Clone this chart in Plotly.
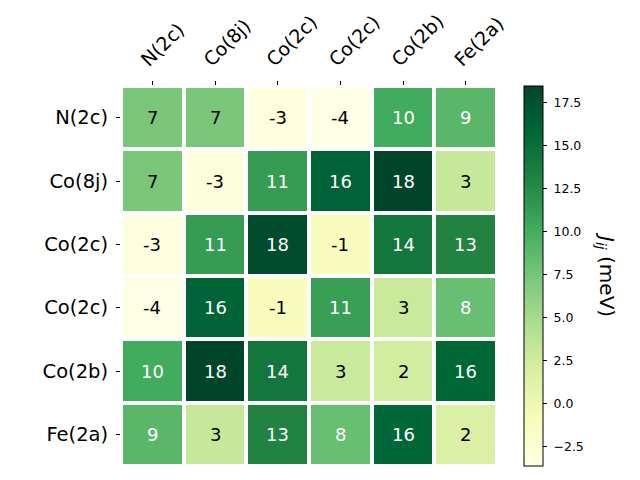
import plotly.graph_objects as go

labels = ["N(2c)", "Co(8j)", "Co(2c)", "Co(2c)", "Co(2b)", "Fe(2a)"]
values = [
    [7.3, 7.3, -3.2, -3.63, 10.1, 8.9],
    [7.3, -3.0, 11.2, 16.1, 18.45, 3.1],
    [-3.2, 11.2, 17.9, -1.1, 14.2, 13.1],
    [-3.63, 16.1, -1.1, 11.0, 2.9, 8.2],
    [10.1, 18.45, 14.2, 2.9, 2.3, 15.8],
    [8.9, 3.1, 13.1, 8.2, 15.8, 1.8],
]
cbar_ticks = [-2.5, 0.0, 2.5, 5.0, 7.5, 10.0, 12.5, 15.0, 17.5]

ylgn = ['rgb(255,255,229)', 'rgb(247,252,185)', 'rgb(217,240,163)', 'rgb(173,221,142)',
        'rgb(120,198,121)', 'rgb(65,171,93)', 'rgb(35,132,67)', 'rgb(0,104,55)', 'rgb(0,69,41)']
cscale = [[i / 8, c] for i, c in enumerate(ylgn)]

flat = [v for r in values for v in r]
zmin, zmax = min(flat), max(flat)
idx = list(range(len(labels)))

FONT = "DejaVu Sans"
L, R, T, B = 121, 143, 86, 14
pw = 640 - L - R
ph = 480 - T - B

fig = go.Figure(go.Heatmap(
    z=values, x=idx, y=idx, colorscale=cscale, zmin=zmin, zmax=zmax,
    xgap=4, ygap=4, hoverinfo="skip",
    colorbar=dict(
        x=(524 - L) / pw, xanchor="left", y=0.5, yanchor="middle",
        lenmode="fraction", len=1.0, thickness=19, xpad=0, ypad=0,
        outlinewidth=1, outlinecolor="black",
        tickvals=cbar_ticks, ticktext=[" " + f"{t:.1f}".replace("-", "\u2212") for t in cbar_ticks],
        ticks="outside", ticklen=4, tickcolor="black",
        tickfont=dict(family=FONT, size=12.5, color="black"),
    ),
))

annotations = []
for i, row in enumerate(values):
    for j, v in enumerate(row):
        norm = (v - zmin) / (zmax - zmin)
        annotations.append(dict(
            x=j, y=i, xref="x", yref="y", text=f"{round(v):d}", showarrow=False,
            font=dict(family=FONT, size=18, color="white" if norm > 0.5 else "black"),
        ))
annotations.append(dict(
    x=(606 - L) / pw, y=(480 - B - 274) / ph, xref="paper", yref="paper",
    xanchor="center", yanchor="middle",
    text="<i>J</i><sub><i>ij</i></sub> (meV)", textangle=90, showarrow=False,
    font=dict(family=FONT, size=20, color="black"),
))

fig.update_layout(
    width=640, height=480,
    margin=dict(l=L, r=R, t=T, b=B, autoexpand=False),
    paper_bgcolor="white", plot_bgcolor="white",
    annotations=annotations,
    xaxis=dict(side="top", tickvals=idx, ticktext=labels, tickangle=-45,
               ticks="outside", ticklen=4, tickcolor="black", showgrid=False, zeroline=False,
               ticklabelshift=-10, ticklabelstandoff=3,
               range=[-0.5, 5.5], tickfont=dict(family=FONT, size=19, color="black")),
    yaxis=dict(tickvals=idx, ticktext=labels, autorange=False, range=[5.5, -0.5],
               ticks="outside", ticklen=4, tickcolor="black", showgrid=False, zeroline=False,
               ticklabelstandoff=4,
               tickfont=dict(family=FONT, size=19.5, color="black")),
)
fig.write_html("out.html")
